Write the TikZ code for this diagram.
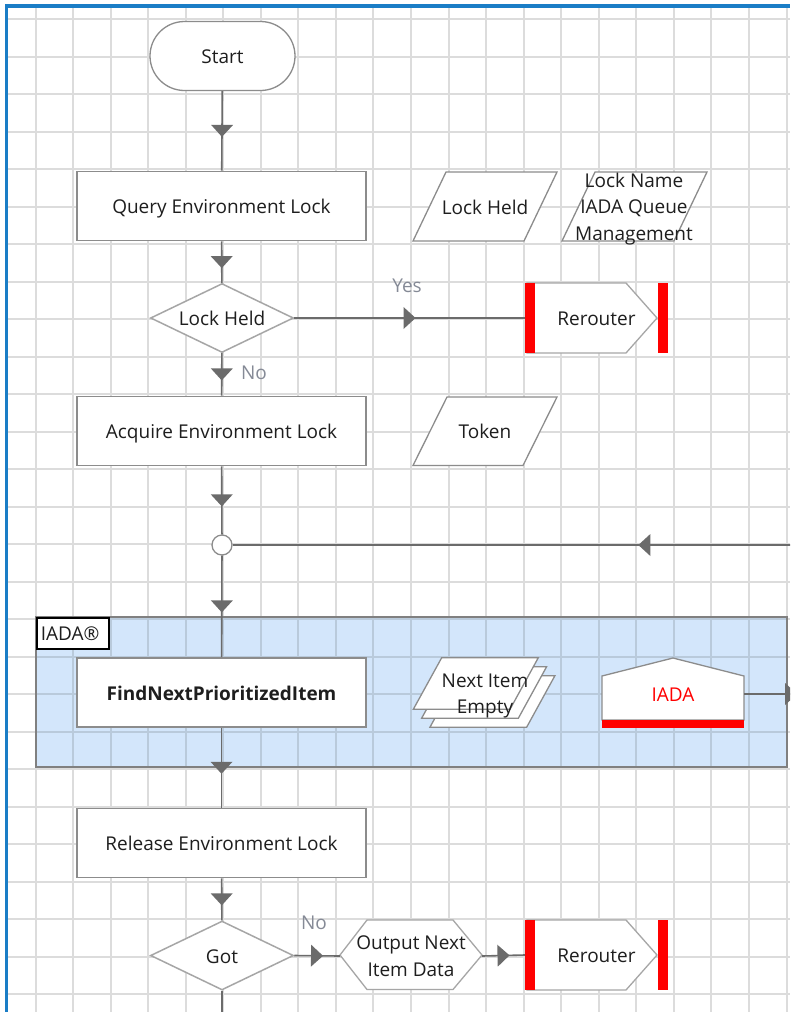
\documentclass[tikz,border=0pt]{standalone}
\usepackage{fontspec}
\setmainfont{Open Sans}
\usetikzlibrary{shapes.geometric,shapes.misc,decorations.markings}
\definecolor{gridc}{HTML}{DCDCDC}
\definecolor{gridb}{HTML}{B9CADB}
\definecolor{grpfill}{HTML}{D3E6FB}
\definecolor{grpline}{HTML}{808080}
\definecolor{winblue}{HTML}{1A7DC6}
\definecolor{conncol}{HTML}{6B6B6B}
\definecolor{shpline}{HTML}{8C8C8C}
\definecolor{dialine}{HTML}{A6A6A6}
\definecolor{txtcol}{HTML}{1E1E1E}
\definecolor{lblcol}{HTML}{858A96}
\definecolor{rred}{HTML}{FF0000}
\begin{document}
\begin{tikzpicture}[x=1pt,y=-1pt,
  font=\fontsize{19}{26.7}\selectfont, text=txtcol,
  oneline/.style={text height=15.6, text depth=0},
  procbox/.style={oneline, draw=shpline, line width=1.8, fill=white, minimum width=289, minimum height=69, inner sep=0, align=center},
  termbox/.style={oneline, rounded rectangle, draw=shpline, line width=1.3, fill=white, minimum width=145, minimum height=69, inner sep=0},
  decbox/.style={oneline, diamond, draw=dialine, line width=1.5, fill=white, minimum width=143, minimum height=69, inner sep=0, aspect=2},
  junc/.style={circle, draw=shpline, line width=1.3, fill=white, minimum size=20, inner sep=0},
  txtonly/.style={inner sep=0, align=center},
  lbl/.style={inner sep=0, text=lblcol},
  outl/.style={draw=shpline, line width=1.3, fill=white},
  outlight/.style={draw=dialine, line width=1.3, fill=white},
  cline/.style={draw=conncol, line width=1.6},
  arrmid/.style={postaction={decorate, decoration={markings, mark=at position 0.5 with {\fill[conncol] (6,0) -- (-6,11) -- (-6,-11) -- cycle;}}}}
]
\useasboundingbox (0,0) rectangle (790,1012);
\clip (0,0) rectangle (790,1012);
\fill[white] (0,0) rectangle (790,1012);
% grid
\foreach \k in {0,...,20} \draw[gridc, line width=2] ({35.5+37.55*\k},8) -- ({35.5+37.55*\k},1012);
\foreach \k in {0,...,26} \draw[gridc, line width=2] (8,{19+37.5*\k}) -- (790,{19+37.5*\k});
% group area
\fill[grpfill] (36,617) rectangle (787,767);
\begin{scope}
  \clip (36,617) rectangle (787,767);
  \foreach \k in {0,...,20} \draw[gridb, line width=2] ({35.5+37.55*\k},600) -- ({35.5+37.55*\k},780);
  \foreach \k in {15,...,20} \draw[gridb, line width=2] (30,{19+37.5*\k}) -- (790,{19+37.5*\k});
\end{scope}
\draw[grpline, line width=1.5] (36,617) rectangle (787,767);
% window border
\fill[winblue] (5,4) rectangle (8.3,1012);
\fill[winblue] (5,4) rectangle (790,8);
% custom outlines
\draw[outl] (413,241) -- (446,172) -- (557,172) -- (524,241) -- cycle;
\draw[outl] (562,241) -- (595,172) -- (707,172) -- (674,241) -- cycle;
\draw[outl] (413,465.5) -- (447,397) -- (557,397) -- (523,465.5) -- cycle;
\draw[outlight] (527,283) -- (626,283) -- (657,318) -- (626,353) -- (527,353) -- cycle;
\fill[rred] (525,283) rectangle (535,353);
\fill[rred] (658,283) rectangle (668,353);
\foreach \d in {2,1,0}
  \draw[outl, shift={(8.3*\d,9*\d)}] (413.3,709.3) -- (441.7,657.7) -- (538.3,657.7) -- (510,709.3) -- cycle;
\draw[outl] (602,720) -- (602,676) -- (673,658) -- (744,676) -- (744,720) -- cycle;
\fill[rred] (602,720) rectangle (744,728.3);
\draw[outlight] (340,955) -- (367,920) -- (453,920) -- (482,955) -- (453,989.5) -- (367,989.5) -- cycle;
\draw[outlight] (527,920) -- (626,920) -- (657,955) -- (626,990) -- (527,990) -- cycle;
\fill[rred] (525,920) rectangle (535,990);
\fill[rred] (658,920) rectangle (668,990);
% nodes
\node[termbox] (start) at (222.5,56) {Start};
\node[procbox] (q) at (221.5,206) {Query Environment Lock};
\node[txtonly, oneline, minimum width=145, minimum height=69] (lh) at (485,206.5) {Lock Held};
\node[txtonly] (ln) at (634,209) {Lock Name\\IADA Queue\\Management};
\node[decbox] (d1) at (222,318) {Lock Held};
\node[txtonly, oneline, minimum width=143, minimum height=70] (rr1) at (596.5,318) {Rerouter};
\node[lbl] (yes) at (407,286) {Yes};
\node[lbl] (no1) at (254,373) {No};
\node[procbox] (acq) at (221.5,431) {Acquire Environment Lock};
\node[txtonly, oneline, minimum width=145, minimum height=69] (tok) at (485,431) {Token};
\node[junc] (j) at (222,545) {};
\coordinate (loopin) at (1056,545);
\node[procbox, font=\fontsize{19}{26.7}\selectfont\bfseries] (fn) at (221.5,692.5) {FindNextPrioritizedItem};
\node[txtonly] (nie) at (485,696) {Next Item\\Empty};
\node[txtonly, oneline, text=rred, minimum width=142, minimum height=70] (iada) at (673,694) {IADA};
\coordinate (iadaout) at (838,694);
\node[draw=black, line width=1.5, fill=white, anchor=north west, minimum width=72, minimum height=31, inner sep=0, inner xsep=4, text width=64, align=left] (grp) at (36,617) {IADA®};
\node[procbox] (rel) at (221.5,843) {Release Environment Lock};
\node[decbox] (got) at (222,955.5) {Got};
\coordinate (gotout) at (222,1100);
\node[txtonly, minimum width=142, minimum height=69] (out) at (411,956) {Output Next\\Item Data};
\node[txtonly, oneline, minimum width=143, minimum height=70] (rr2) at (596.5,955) {Rerouter};
\node[lbl] (no2) at (314,923) {No};
% connectors
\draw[cline, arrmid] (start) -- (q);
\draw[cline, arrmid] (q) -- (d1);
\draw[cline, arrmid] (d1.east) -- (rr1.west);
\draw[cline, arrmid] (d1) -- (acq);
\draw[cline, arrmid] (acq) -- (j);
\draw[cline, arrmid] (loopin) -- (j.east);
\draw[cline, arrmid] (j) -- (fn);
\draw[cline, arrmid] (iada.east) -- (iadaout);
\draw[cline, arrmid] (fn) -- (rel);
\draw[cline, arrmid] (rel) -- (got);
\draw[cline] (got) -- (gotout);
\draw[cline, arrmid] (got.east) -- (out.west);
\draw[cline, arrmid] (out.east) -- (rr2.west);
\end{tikzpicture}
\end{document}
